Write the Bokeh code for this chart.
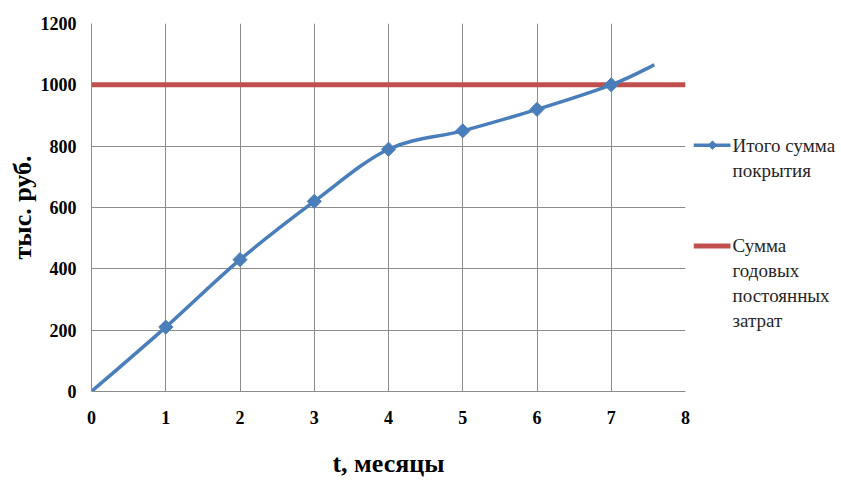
import numpy as np
from bokeh.plotting import figure
from bokeh.models import Range1d, FixedTicker
from bokeh.layouts import row
from bokeh.core.properties import value
from bokeh.embed import file_html
from bokeh.resources import INLINE

# ---- data ----
months = [0, 1, 2, 3, 4, 5, 6, 7, 7.58]
coverage = [0, 210, 430, 620, 790, 850, 920, 1000, 1065]
marker_months = [1, 2, 3, 4, 5, 6, 7]
marker_coverage = [210, 430, 620, 790, 850, 920, 1000]
fixed_x = [0, 8]
fixed_costs = [1000, 1000]
x_ticks = [0, 1, 2, 3, 4, 5, 6, 7, 8]
y_ticks = [0, 200, 400, 600, 800, 1000, 1200]
series_names = [["Итого сумма", "покрытия"], ["Сумма", "годовых", "постоянных", "затрат"]]

BLUE = "#4A7EBB"
RED = "#C0504D"
GRID = "#8C8C8C"
TEXT = "#262626"
FONT = "Liberation Serif"

H = 480
MAIN_W = 693
LEG_W = 841 - MAIN_W
TOP, BOTTOM = 23, 88

p = figure(width=MAIN_W, height=H, output_backend="svg", toolbar_location=None,
           x_range=Range1d(0, 8), y_range=Range1d(0, 1200),
           min_border_left=91, min_border_right=8, min_border_top=TOP, min_border_bottom=BOTTOM)
p.outline_line_color = None
p.background_fill_color = "white"
p.border_fill_color = "white"

for ax, ticks in ((p.xaxis[0], x_ticks), (p.yaxis[0], y_ticks)):
    ax.ticker = FixedTicker(ticks=ticks)
    ax.major_tick_line_color = None
    ax.minor_tick_line_color = None
    ax.major_tick_out = 0
    ax.major_tick_in = 0
    ax.axis_line_color = GRID
    ax.major_label_text_font = FONT
    ax.major_label_text_font_style = "bold"
    ax.major_label_text_font_size = "18px"
    ax.major_label_text_color = "black"
    ax.axis_label_text_font = FONT
    ax.axis_label_text_font_style = "bold"
    ax.axis_label_text_font_size = "26px"
    ax.axis_label_text_color = "black"

p.xaxis.axis_label = "t, месяцы"
p.yaxis.axis_label = "тыс. руб."
p.xaxis.major_label_standoff = 19
p.yaxis.major_label_standoff = 15
p.xaxis.axis_label_standoff = 22
p.yaxis.axis_label_standoff = 1

p.xgrid.ticker = FixedTicker(ticks=x_ticks)
p.ygrid.ticker = FixedTicker(ticks=y_ticks)
for g in (p.xgrid[0], p.ygrid[0]):
    g.grid_line_color = GRID
    g.grid_line_width = 1

# smoothed curve (Catmull-Rom style Bezier segments, like the spreadsheet's smoothed line)
xs = np.array(months, dtype=float)
ys = np.array(coverage, dtype=float)
n = len(xs)
xp = np.concatenate([[xs[0]], xs, [xs[-1]]])
yp = np.concatenate([[ys[0]], ys, [ys[-1]]])
x0 = xs[:-1]; y0 = ys[:-1]; x1 = xs[1:]; y1 = ys[1:]
cx0 = x0 + (xp[2:n + 1] - xp[0:n - 1]) / 6.0
cy0 = y0 + (yp[2:n + 1] - yp[0:n - 1]) / 6.0
cx1 = x1 - (xp[3:n + 2] - xp[1:n]) / 6.0
cy1 = y1 - (yp[3:n + 2] - yp[1:n]) / 6.0

p.line(fixed_x, fixed_costs, line_color=RED, line_width=5)
p.bezier(x0=x0, y0=y0, x1=x1, y1=y1, cx0=cx0, cy0=cy0, cx1=cx1, cy1=cy1,
         line_color=BLUE, line_width=3.5)
p.scatter(marker_months, marker_coverage, marker="square", size=10,
          angle=np.pi / 4, fill_color=BLUE, line_color=BLUE)

# ---- legend panel (pixel coordinates of the page, y downwards) ----
lg = figure(width=LEG_W, height=H, output_backend="svg", toolbar_location=None,
            x_range=Range1d(0, LEG_W), y_range=Range1d(H - BOTTOM, TOP),
            x_axis_type=None, y_axis_type=None,
            min_border_left=0, min_border_right=0, min_border_top=TOP, min_border_bottom=BOTTOM)
lg.outline_line_color = None
lg.grid.visible = False
lg.background_fill_color = "white"
lg.border_fill_color = "white"

entry_tops = [145, 246]
line_step = 25
lg.line([0, 37], [entry_tops[0], entry_tops[0]], line_color=BLUE, line_width=3.5)
lg.scatter([19], [entry_tops[0]], marker="square", size=6, angle=np.pi / 4,
           fill_color=BLUE, line_color=BLUE)
lg.line([0, 37], [entry_tops[1], entry_tops[1]], line_color=RED, line_width=5)
for top, lines in zip(entry_tops, series_names):
    lg.text(x=[39] * len(lines), y=[top + i * line_step for i in range(len(lines))], text=lines,
            text_font=value(FONT), text_font_size="19px", text_color=TEXT,
            text_baseline="middle", text_align="left")

layout = row(p, lg, spacing=0)
open("out.html", "w").write(file_html(layout, INLINE))
